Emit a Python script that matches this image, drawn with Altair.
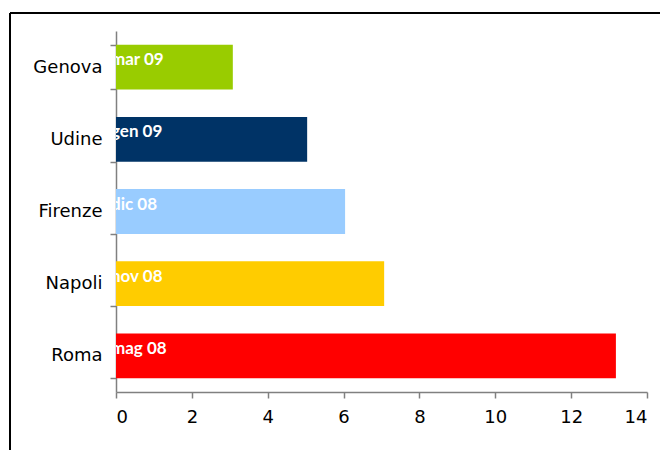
import altair as alt
import pandas as pd

cities = ["Genova", "Udine", "Firenze", "Napoli", "Roma"]
values = [3.08, 5.04, 6.04, 7.07, 13.18]
labels = ["mar 09", "gen 09", "dic 08", "nov 08", "mag 08"]
colors = ["#99CC00", "#003366", "#99CCFF", "#FFCC00", "#FF0000"]
x_ticks = [0, 2, 4, 6, 8, 10, 12, 14]

df = pd.DataFrame({"city": cities, "value": values, "label": labels, "color": colors})

W, H = 531, 361

y_enc = alt.Y("city:N", sort=cities, title=None,
              scale=alt.Scale(paddingInner=0.38, paddingOuter=0.19),
              axis=alt.Axis(tickBand="extent", labelFontSize=18, labelFont="DejaVu Sans",
                            labelColor="#000000", domainColor="#808080", tickColor="#808080",
                            tickSize=6, labelPadding=8, domainWidth=1.5, tickWidth=1.5))

bars = alt.Chart(df).mark_bar().encode(
    x=alt.X("value:Q", title=None, scale=alt.Scale(domain=[0, 14], nice=False),
            axis=alt.Axis(values=x_ticks, grid=False, labelFontSize=18, labelFont="DejaVu Sans",
                          labelColor="#000000", domainColor="#808080", tickColor="#808080",
                          tickSize=6, labelPadding=10, domainWidth=1.5, tickWidth=1.5)),
    y=y_enc,
    color=alt.Color("color:N", scale=None),
)

text = alt.Chart(df).mark_text(align="left", baseline="middle", dx=-5, dy=-7,
                               fontSize=17, fontWeight="bold", font="Lato",
                               color="white", clip=True).encode(
    x=alt.datum(0),
    y=alt.Y("city:N", sort=cities),
    text="label:N",
)

frame_left = alt.Chart(df).mark_rule(color="#000000", strokeWidth=1.5, clip=False).encode(
    x=alt.value(-106), y=alt.value(-18), y2=alt.value(H + 200))
frame_top = alt.Chart(df).mark_rule(color="#000000", strokeWidth=1.5, clip=False).encode(
    x=alt.value(-106), x2=alt.value(W + 200), y=alt.value(-18))

chart = alt.layer(frame_left, frame_top, bars, text).properties(
    width=W, height=H,
    padding={"left": 108, "top": 23, "right": 13, "bottom": 58},
    autosize=alt.AutoSizeParams(type="none"),
).configure_view(stroke=None)

chart.save("out.html", embed_options={"renderer": "svg", "actions": False})
